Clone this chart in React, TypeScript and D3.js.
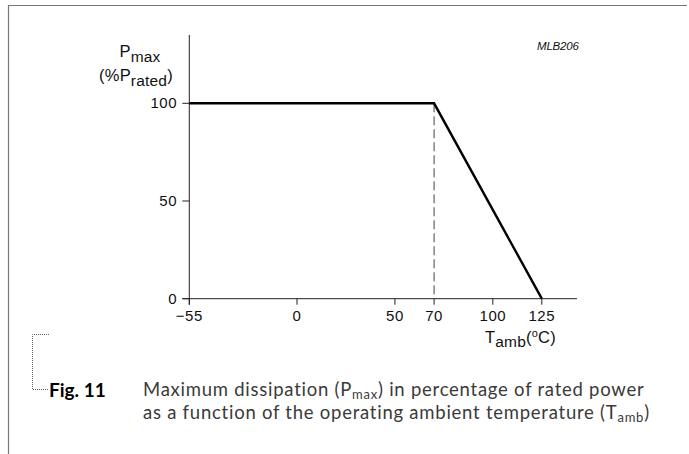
import React from "react";
import * as d3 from "d3";

const tempPoints = [-55, 70, 125];
const powerPoints = [100, 100, 0];
const xTicks = [-55, 0, 50, 70, 100, 125];
const yTicks = [0, 50, 100];
const kneeTemp = 70;

const W = 689;
const H = 454;

export default function App() {
  const x = d3.scaleLinear().domain([-55, 125]).range([189.3, 541.8]);
  const y = d3.scaleLinear().domain([0, 100]).range([298.7, 103.3]);
  const data = tempPoints.map((t, i) => [t, powerPoints[i]] as [number, number]);
  const line = d3
    .line<[number, number]>()
    .x((d) => x(d[0]))
    .y((d) => y(d[1]));
  const axisFont = "'Liberation Sans', Arial, sans-serif";
  const capFont = "Lato, 'Open Sans', sans-serif";
  const x0 = x(-55);
  const y0 = y(0);
  return (
    <svg
      width={W}
      height={H}
      style={{ position: "absolute", left: 0, top: 0, background: "#fff" }}
    >
      {/* page frame */}
      <line x1={8.5} y1={5.5} x2={687} y2={5.5} stroke="#777" strokeWidth={1.2} />
      <line x1={8.5} y1={5} x2={8.5} y2={H} stroke="#777" strokeWidth={1.2} />

      {/* axes */}
      <line x1={x0} y1={35} x2={x0} y2={y0 + 6} stroke="#222" strokeWidth={1} />
      <line x1={x0 - 7} y1={y0} x2={577} y2={y0} stroke="#222" strokeWidth={1} />
      {yTicks.map((t) => (
        <g key={"y" + t}>
          <line x1={x0 - 7} x2={x0} y1={y(t)} y2={y(t)} stroke="#222" strokeWidth={1} />
          <text
            x={177}
            y={y(t) + 5}
            textAnchor="end"
            fontFamily={axisFont}
            fontSize={15}
            letterSpacing={0.5}
            fill="#111"
          >
            {t}
          </text>
        </g>
      ))}
      {xTicks.map((t) => (
        <g key={"x" + t}>
          <line x1={x(t)} x2={x(t)} y1={y0} y2={y0 + 6} stroke="#222" strokeWidth={1} />
          <text
            x={x(t)}
            y={321}
            textAnchor="middle"
            fontFamily={axisFont}
            fontSize={15}
            letterSpacing={0.5}
            fill="#111"
          >
            {t < 0 ? "\u2212" + Math.abs(t) : t}
          </text>
        </g>
      ))}

      {/* dashed knee line */}
      <line
        x1={x(kneeTemp)}
        x2={x(kneeTemp)}
        y1={y(100)}
        y2={y0}
        stroke="#444"
        strokeWidth={1}
        strokeDasharray="9,4"
      />

      {/* derating curve */}
      <path d={line(data) || ""} fill="none" stroke="#000" strokeWidth={2.4} strokeLinejoin="miter" />

      {/* axis labels */}
      <text x={140} y={57} textAnchor="middle" fontFamily={axisFont} fontSize={16.5} letterSpacing={0.2} fill="#111">
        P<tspan fontSize={15.5} dy={5}>max</tspan>
      </text>
      <text x={136} y={81} textAnchor="middle" fontFamily={axisFont} fontSize={16.5} letterSpacing={0.2} fill="#111">
        (%P<tspan fontSize={15.5} dy={5}>rated</tspan>
        <tspan dy={-5}>)</tspan>
      </text>
      <text x={485} y={343} fontFamily={axisFont} fontSize={16.5} letterSpacing={0.2} fill="#111">
        T<tspan fontSize={15.5} dy={4}>amb</tspan>
        <tspan dy={-4}>(</tspan>
        <tspan fontSize={11} dy={-6}>o</tspan>
        <tspan dy={6}>C)</tspan>
      </text>
      <text
        x={537}
        y={50}
        fontFamily={axisFont}
        fontSize={11.5}
        fontStyle="italic"
        letterSpacing={-0.2}
        fill="#111"
      >
        MLB206
      </text>

      {/* caption bracket */}
      <path
        d="M49,334.5 H32.5 V389.5 H49"
        fill="none"
        stroke="#666"
        strokeWidth={1}
        strokeDasharray="1,1"
      />
      <text x={49} y={397} fontFamily={capFont} fontSize={19} fontWeight="bold" fill="#000">
        Fig. 11
      </text>
      <text x={143} y={396} fontFamily={capFont} fontSize={18.5} letterSpacing={0.75} fill="#3a3a3a">
        Maximum dissipation (P<tspan fontSize={13} dy={3}>max</tspan>
        <tspan dy={-3}>) in percentage of rated power</tspan>
      </text>
      <text x={143} y={419} fontFamily={capFont} fontSize={18.5} letterSpacing={0.75} fill="#3a3a3a">
        as a function of the operating ambient temperature (T
        <tspan fontSize={13} dy={3}>amb</tspan>
        <tspan dy={-3}>)</tspan>
      </text>
    </svg>
  );
}
